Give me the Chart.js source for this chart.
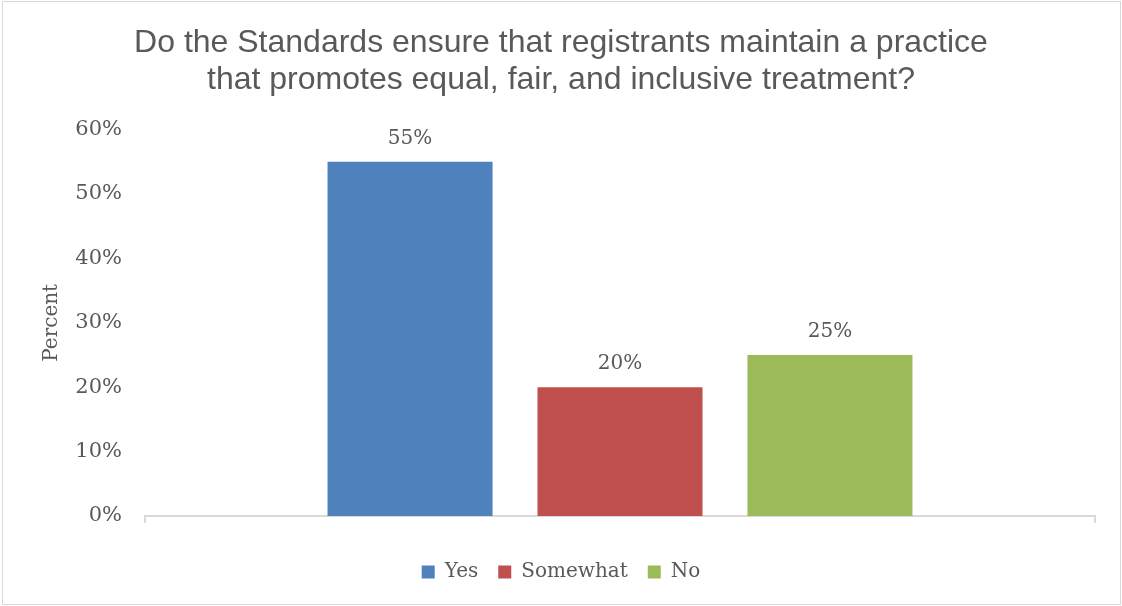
<!DOCTYPE html>
<html>
<head>
<meta charset="utf-8">
<script src="https://cdn.jsdelivr.net/npm/chart.js@4/dist/chart.umd.min.js"></script>
<style>
  html, body { margin: 0; padding: 0; background: #fff; }
  #wrap { position: relative; width: 1122px; height: 606px; }
  #frame { position: absolute; left: 2px; top: 1px; width: 1117px; height: 602px; border: 1px solid #d9d9d9; pointer-events: none; }
  canvas { position: absolute; left: 0; top: 0; }
</style>
</head>
<body>
<div id="wrap">
  <canvas id="chart" width="1122" height="606"></canvas>
  <div id="frame"></div>
</div>
<script>
// survey answers, one bar each
const categories = [""];
const seriesNames = ["Yes", "Somewhat", "No"];
const yesValues = [55];
const somewhatValues = [20];
const noValues = [25];
const yTicks = [0, 10, 20, 30, 40, 50, 60];

const colors = ["#4F81BD", "#C0504D", "#9BBB59"];
const textColor = "#595959";
const serif = "'DejaVu Serif', serif";

// percent labels on top of each bar
const barLabels = {
  id: "barLabels",
  afterDatasetsDraw(chart) {
    const ctx = chart.ctx;
    ctx.save();
    ctx.font = "20px " + serif;
    ctx.fillStyle = textColor;
    ctx.textAlign = "center";
    ctx.textBaseline = "middle";
    chart.data.datasets.forEach((ds, i) => {
      chart.getDatasetMeta(i).data.forEach((bar, j) => {
        ctx.fillText(ds.data[j] + "%", bar.x, bar.y - 23);
      });
    });
    ctx.restore();
  }
};

new Chart(document.getElementById("chart"), {
  type: "bar",
  data: {
    labels: categories,
    datasets: [
      { label: seriesNames[0], data: yesValues, backgroundColor: colors[0] },
      { label: seriesNames[1], data: somewhatValues, backgroundColor: colors[1] },
      { label: seriesNames[2], data: noValues, backgroundColor: colors[2] }
    ]
  },
  options: {
    responsive: false,
    animation: false,
    categoryPercentage: 0.663,
    barPercentage: 0.786,
    layout: { padding: { left: 27, right: 27, top: 0, bottom: 14 } },
    plugins: {
      title: {
        display: true,
        text: ["Do the Standards ensure that registrants maintain a practice",
               "that promotes equal, fair, and inclusive treatment?"],
        color: textColor,
        font: { family: "'Liberation Sans', Arial, sans-serif", size: 32, weight: "normal", lineHeight: 1.15 },
        padding: { top: 25, bottom: 31 }
      },
      legend: {
        position: "bottom",
        labels: {
          color: textColor,
          font: { family: serif, size: 20 },
          boxWidth: 13,
          boxHeight: 13,
          padding: 20
        }
      },
      tooltip: { enabled: false }
    },
    scales: {
      x: {
        offset: true,
        grid: { display: true, drawOnChartArea: false, color: "#d9d9d9", lineWidth: 2, tickLength: 7 },
        border: { display: true, color: "#d9d9d9", width: 2 },
        ticks: { display: false },
        afterFit: s => { s.height = 26; }
      },
      y: {
        min: 0,
        max: 60,
        afterBuildTicks: s => { s.ticks = yTicks.map(v => ({ value: v })); },
        afterFit: s => { s.width = 118; },
        grid: { display: false, drawTicks: false },
        border: { display: false },
        ticks: {
          color: textColor,
          font: { family: serif, size: 21 },
          padding: 23,
          callback: v => v + "%"
        },
        title: {
          display: true,
          text: "Percent",
          color: textColor,
          font: { family: serif, size: 20 },
          padding: { top: 13, bottom: 0 }
        }
      }
    }
  },
  plugins: [barLabels]
});
</script>
</body>
</html>
